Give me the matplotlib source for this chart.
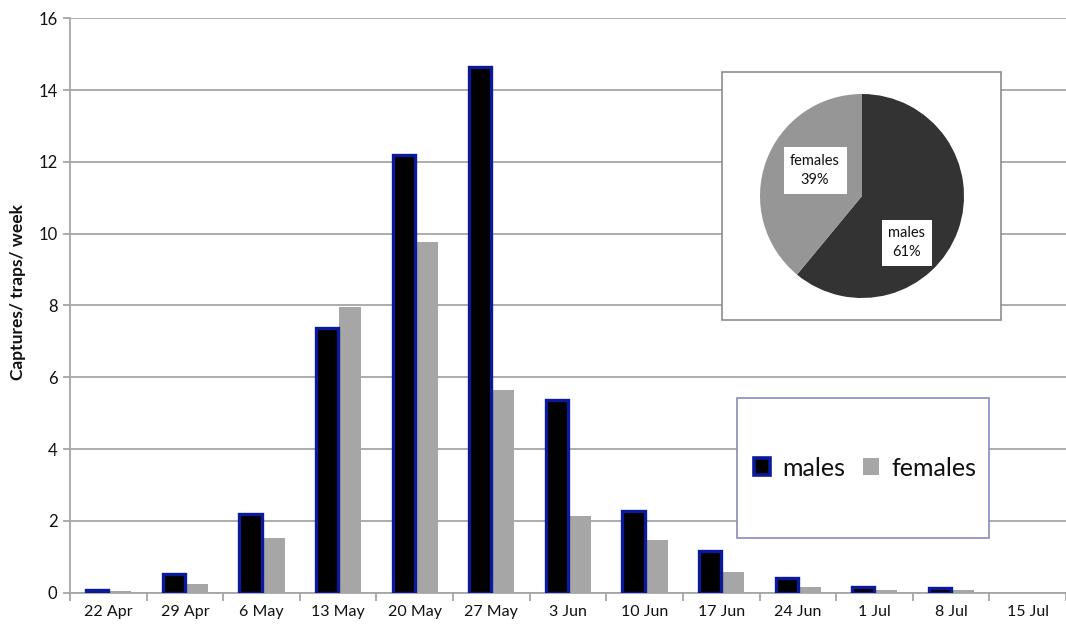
import numpy as np
import matplotlib
matplotlib.use("Agg")
import matplotlib.pyplot as plt
from matplotlib.patches import Patch, Rectangle

plt.rcParams["font.family"] = ["Lato", "DejaVu Sans"]

weeks = ["22 Apr", "29 Apr", "6 May", "13 May", "20 May", "27 May", "3 Jun",
         "10 Jun", "17 Jun", "24 Jun", "1 Jul", "8 Jul", "15 Jul"]
males = [0.07, 0.52, 2.18, 7.38, 12.2, 14.63, 5.38, 2.28, 1.15, 0.4, 0.16, 0.13, 0.0]
females = [0.05, 0.24, 1.53, 7.95, 9.78, 5.65, 2.14, 1.48, 0.57, 0.16, 0.08, 0.07, 0.0]

sex_share = [61, 39]
sex_labels = ["males", "females"]

MALE_EDGE = "#0a1a9a"
FEMALE_GRAY = "#a6a6a6"
GRID_GRAY = "#a6a6a6"
TEXT = "#111111"

W, H = 1066, 626
fig = plt.figure(figsize=(W / 100, H / 100), dpi=100)
ax = fig.add_axes([70 / W, 1 - 592.7 / H, 996 / W, (592.7 - 18.3) / H])

x = np.arange(len(weeks))
bw = 0.29
mbars = ax.bar(x - bw / 2, males, width=bw, color="black", edgecolor=MALE_EDGE,
               linewidth=2.4, zorder=3)
# an empty week gets no outline either
for b, v in zip(mbars, males):
    if v == 0:
        b.set_visible(False)
ax.bar(x + bw / 2 + 0.01, females, width=bw, color=FEMALE_GRAY,
       linewidth=0, zorder=2)

ax.set_xlim(-0.5, len(weeks) - 0.5)
ax.set_ylim(0, 16)
ax.set_yticks(np.arange(0, 17, 2))
ax.yaxis.grid(True, color=GRID_GRAY, linewidth=1.3, zorder=0)
ax.set_axisbelow(True)

# labels centred on weeks, tick marks between them
ax.set_xticks(x)
ax.set_xticklabels(weeks)
ax.set_xticks(np.arange(-0.5, len(weeks), 1), minor=True)
ax.tick_params(axis="x", which="major", length=0, pad=9, labelsize=11.5)
ax.tick_params(axis="x", which="minor", length=6, width=1.3, color=GRID_GRAY)
ax.tick_params(axis="y", length=5, width=1.3, color=GRID_GRAY, pad=4,
               labelsize=12)
for lab in ax.get_xticklabels() + ax.get_yticklabels():
    lab.set_color(TEXT)

for side in ["top", "right"]:
    ax.spines[side].set_visible(False)
for side in ["left", "bottom"]:
    ax.spines[side].set_color(GRID_GRAY)
    ax.spines[side].set_linewidth(1.3)

fig.text(18 / W, 1 - 292 / H, "Captures/ traps/ week", rotation=90,
         ha="center", va="center", fontsize=12.5, fontweight="bold",
         color=TEXT)

# legend with its own frame
fig.patches.append(Rectangle((737 / W, 1 - 538 / H), 252 / W, 140 / H,
                             transform=fig.transFigure, facecolor="white",
                             edgecolor="#8a8ac0", linewidth=1.2, zorder=5))
handles = [Patch(facecolor="black", edgecolor=MALE_EDGE, linewidth=2.6),
           Patch(facecolor=FEMALE_GRAY, edgecolor="none")]
leg = fig.legend(handles, ["males", "females"], loc="center",
                 bbox_to_anchor=(865 / W, 1 - 468 / H), ncol=2, frameon=False,
                 fontsize=18, handlelength=0.65, handleheight=0.65,
                 handletextpad=0.5, columnspacing=0.7)
for t in leg.get_texts():
    t.set_color(TEXT)
leg.set_zorder(6)

# inset pie of the sex ratio
fig.patches.append(Rectangle((722 / W, 1 - 320 / H), 279 / W, 248 / H,
                             transform=fig.transFigure, facecolor="white",
                             edgecolor="#8c8c8c", linewidth=1.2, zorder=5))
pax = fig.add_axes([(862 - 102) / W, 1 - (196 + 102) / H, 204 / W, 204 / H])
pax.set_zorder(7)
pax.pie(sex_share, colors=["#333333", "#969696"], startangle=90,
        counterclock=False, wedgeprops=dict(linewidth=0))
pax.set_xlim(-1, 1)
pax.set_ylim(-1, 1)
pax.set_aspect("equal")
box = dict(boxstyle="square,pad=0.45", facecolor="white", edgecolor="none")
pax.text(0.44, -0.46, f"{sex_labels[0]}\n{sex_share[0]}%", ha="center",
         va="center", fontsize=10.5, bbox=box, color=TEXT, linespacing=1.45)
pax.text(-0.46, 0.25, f"{sex_labels[1]}\n{sex_share[1]}%", ha="center",
         va="center", fontsize=10.5, bbox=box, color=TEXT, linespacing=1.45)

fig.savefig("out.png", dpi=100)
